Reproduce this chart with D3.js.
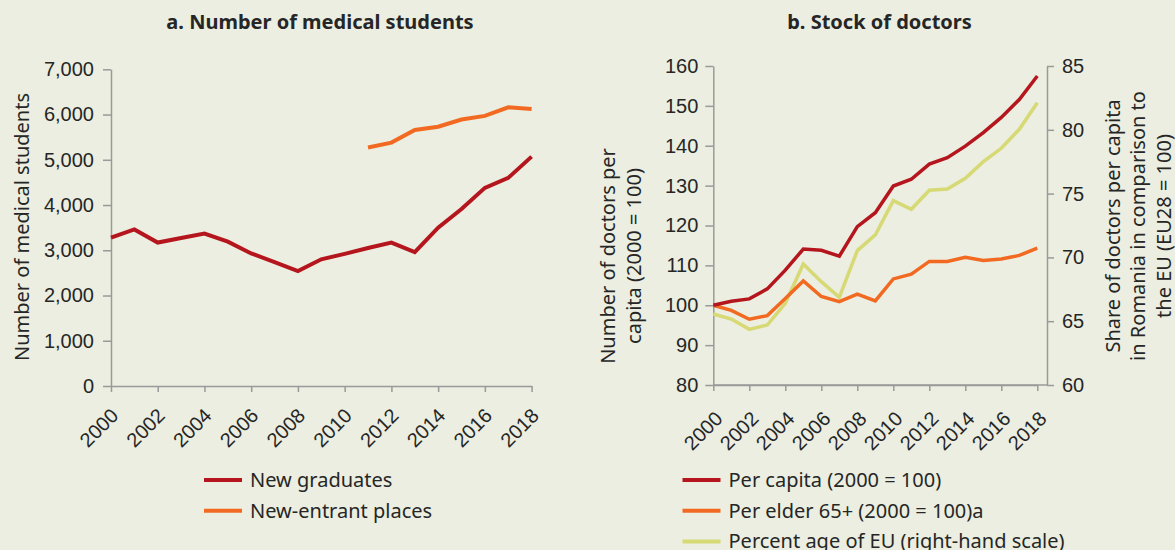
<!DOCTYPE html>
<html>
<head>
<meta charset="utf-8">
<script src="https://cdn.jsdelivr.net/npm/d3@7"></script>
<style>
  body { margin: 0; background: #EBEEE0; }
  svg { display: block; font-family: "Noto Sans", sans-serif; }
  .domain, .tick line { stroke: #9a9a9a; stroke-width: 1.5; }
  .tick text { fill: #262626; font-size: 20px; }
</style>
</head>
<body>
<div id="container"></div>
<script>
const WIDTH = 1175;
const HEIGHT = 550;

// data
const years = [2000, 2001, 2002, 2003, 2004, 2005, 2006, 2007, 2008, 2009,
               2010, 2011, 2012, 2013, 2014, 2015, 2016, 2017, 2018];
const yearTicks = [2000, 2002, 2004, 2006, 2008, 2010, 2012, 2014, 2016, 2018];

const newGraduates = [3280, 3460, 3170, 3270, 3370, 3190, 2930, 2740, 2540, 2800,
                      2920, 3050, 3170, 2960, 3500, 3910, 4380, 4600, 5070];
const entrantYears = [2011, 2012, 2013, 2014, 2015, 2016, 2017, 2018];
const newEntrantPlaces = [5270, 5380, 5660, 5730, 5890, 5970, 6160, 6120];
const studentTicks = [0, 1000, 2000, 3000, 4000, 5000, 6000, 7000];

const perCapita = [100, 101.0, 101.6, 104.1, 108.8, 114.1, 113.8, 112.3, 119.7, 123.2,
                   129.9, 131.6, 135.4, 137.0, 139.9, 143.3, 147.1, 151.6, 157.5];
const perElder = [100, 98.7, 96.5, 97.4, 101.7, 106.1, 102.2, 100.9, 102.8, 101.1,
                  106.6, 107.8, 111.0, 111.0, 112.0, 111.2, 111.6, 112.5, 114.3];
const pctEU = [65.56, 65.17, 64.36, 64.70, 66.40, 69.48, 68.1, 66.87, 70.53, 71.76,
               74.45, 73.77, 75.26, 75.36, 76.2, 77.5, 78.55, 80.04, 82.12];
const indexTicks = [80, 90, 100, 110, 120, 130, 140, 150, 160];
const shareTicks = [60, 65, 70, 75, 80, 85];

const RED = '#B5161E';
const ORANGE = '#F26A22';
const LIME = '#D6D974';
const TEXT = '#262626';

const svg = d3.select('#container')
  .append('svg')
    .attr('width', WIDTH)
    .attr('height', HEIGHT);

const title = (x, str) => svg.append('text')
  .attr('x', x).attr('y', 29)
  .attr('text-anchor', 'middle')
  .attr('font-size', 20).attr('font-weight', 'bold')
  .attr('fill', TEXT)
  .text(str);

const rotLabel = (x, y, lines, step) => {
  const t = svg.append('text')
    .attr('transform', `translate(${x}, ${y}) rotate(-90)`)
    .attr('text-anchor', 'middle')
    .attr('font-size', 20)
    .attr('fill', TEXT);
  lines.forEach((l, i) => t.append('tspan').attr('x', 0).attr('y', i * step).text(l));
};

const xLabels = (g, dx, y) => {
  g.selectAll('.tick text')
    .attr('text-anchor', 'end')
    .attr('x', null).attr('y', null).attr('dy', null)
    .attr('transform', `translate(${dx}, ${y}) rotate(-45)`);
};

const legend = (x, y, items) => {
  const g = svg.append('g');
  items.forEach((it, i) => {
    g.append('line')
      .attr('x1', x).attr('x2', x + 38)
      .attr('y1', y + i * 30.7).attr('y2', y + i * 30.7)
      .attr('stroke', it.color).attr('stroke-width', 4);
    g.append('text')
      .attr('x', x + 46).attr('y', y + i * 30.7)
      .attr('dy', '0.35em')
      .attr('font-size', 20).attr('fill', TEXT)
      .text(it.label);
  });
};

// ---------- a. Number of medical students ----------
const xA = d3.scaleLinear().domain([2000, 2018]).range([111, 531.6]);
const yA = d3.scaleLinear().domain([0, 7000]).range([386, 69.3]);

title(320, 'a. Number of medical students');

svg.append('g')
  .attr('transform', 'translate(0, 386)')
  .call(d3.axisBottom(xA).tickValues(yearTicks).tickFormat(d3.format('d'))
        .tickSize(6).tickSizeOuter(0))
  .call(g => xLabels(g, 8, 31));

svg.append('g')
  .attr('transform', 'translate(111, 0)')
  .call(d3.axisLeft(yA).tickValues(studentTicks).tickFormat(d3.format(','))
        .tickSize(8).tickSizeOuter(0).tickPadding(9));

rotLabel(29, 227, ['Number of medical students'], 0);

const lineA = d3.line().x(d => xA(d[0])).y(d => yA(d[1]));

svg.append('path')
  .datum(d3.zip(years, newGraduates))
  .attr('d', lineA)
  .attr('fill', 'none').attr('stroke', RED).attr('stroke-width', 4);

svg.append('path')
  .datum(d3.zip(entrantYears, newEntrantPlaces))
  .attr('d', lineA)
  .attr('fill', 'none').attr('stroke', ORANGE).attr('stroke-width', 4);

legend(204, 480, [
  { label: 'New graduates', color: RED },
  { label: 'New-entrant places', color: ORANGE }
]);

// ---------- b. Stock of doctors ----------
const xB = d3.scaleLinear().domain([2000, 2018]).range([713.3, 1037.3]);
const yB = d3.scaleLinear().domain([80, 160]).range([385, 66]);
const yB2 = d3.scaleLinear().domain([60, 85]).range([385, 66]);

title(879.5, 'b. Stock of doctors');

svg.append('line')
  .attr('x1', 713.3).attr('x2', 1047)
  .attr('y1', 385).attr('y2', 385)
  .attr('stroke', '#9a9a9a').attr('stroke-width', 1.5);

svg.append('g')
  .attr('transform', 'translate(0, 385)')
  .call(d3.axisBottom(xB).tickValues(yearTicks).tickFormat(d3.format('d'))
        .tickSize(6).tickSizeOuter(0))
  .call(g => xLabels(g, 10, 35));

svg.append('g')
  .attr('transform', 'translate(713.3, 0)')
  .call(d3.axisLeft(yB).tickValues(indexTicks)
        .tickSize(8).tickSizeOuter(0).tickPadding(7));

svg.append('g')
  .attr('transform', 'translate(1047, 0)')
  .call(d3.axisRight(yB2).tickValues(shareTicks)
        .tickSize(7).tickSizeOuter(0).tickPadding(8));

rotLabel(615, 256, ['Number of doctors per', 'capita (2000 = 100)'], 25.5);
rotLabel(1119.5, 226, ['Share of doctors per capita', 'in Romania in comparison to', 'the EU (EU28 = 100)'], 25.5);

const lineB = d3.line().x(d => xB(d[0])).y(d => yB(d[1]));
const lineB2 = d3.line().x(d => xB(d[0])).y(d => yB2(d[1]));

svg.append('path')
  .datum(d3.zip(years, pctEU))
  .attr('d', lineB2)
  .attr('fill', 'none').attr('stroke', LIME).attr('stroke-width', 3.5);

svg.append('path')
  .datum(d3.zip(years, perElder))
  .attr('d', lineB)
  .attr('fill', 'none').attr('stroke', ORANGE).attr('stroke-width', 3.5);

svg.append('path')
  .datum(d3.zip(years, perCapita))
  .attr('d', lineB)
  .attr('fill', 'none').attr('stroke', RED).attr('stroke-width', 3.5);

legend(682.5, 480, [
  { label: 'Per capita (2000 = 100)', color: RED },
  { label: 'Per elder 65+ (2000 = 100)a', color: ORANGE },
  { label: 'Percent age of EU (right-hand scale)', color: LIME }
]);
</script>
</body>
</html>
